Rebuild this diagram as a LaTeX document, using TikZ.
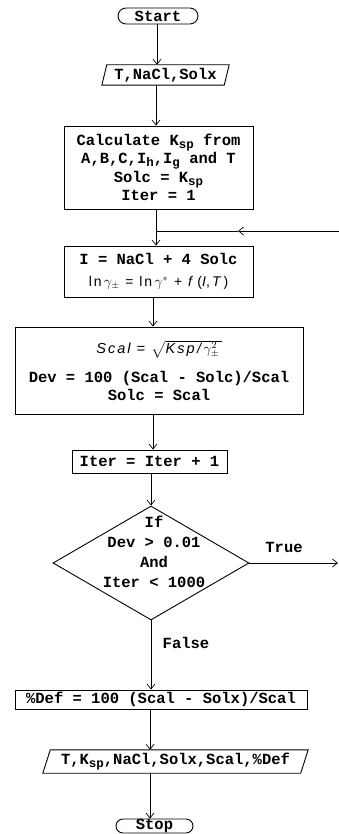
\documentclass[tikz,border=0pt]{standalone}
\usepackage{fontspec}
\usepackage{amsmath}
\setmainfont{Liberation Mono}
\newfontfamily\msans[LetterSpace=14]{Liberation Sans}
\usetikzlibrary{shapes.geometric,arrows.meta}
\newcommand{\sbs}[1]{\raisebox{-0.35ex}{\fontsize{12.5}{12.5}\selectfont #1}}
\begin{document}
\begin{tikzpicture}[x=1pt,y=-1pt,
  every node/.style={font=\fontsize{15.5}{18.5}\selectfont\bfseries, inner sep=0pt, align=center},
  box/.style={draw, line width=0.9pt, rectangle},
  term/.style={draw, line width=0.9pt, rectangle, rounded corners=8pt},
  io/.style={rectangle},
  iobord/.style={line width=0.9pt, line join=miter},
  conn/.style={line width=0.7pt, -{Straight Barb[length=5pt,width=8pt]}},
  plain/.style={line width=0.7pt},
  lbl/.style={}]
\useasboundingbox (0,0) rectangle (339,834);
% axes
\coordinate (ax1) at (157,0);
\coordinate (ax2) at (156,0);
\coordinate (ax3) at (153,0);
\coordinate (ax5) at (150,0);
% nodes
\node[term, minimum width=80pt, minimum height=16pt] (start) at (158,16) {Start};
\node[io, minimum width=122pt, minimum height=20pt] (inp) at (165.5,75) {T,NaCl,Solx};
\draw[iobord] ([xshift=-2.5pt]inp.south west) -- ([xshift=2.5pt]inp.north west) -- ([xshift=2.5pt]inp.north east) -- ([xshift=-2.5pt]inp.south east) -- cycle;
\node[box, minimum width=189pt, minimum height=83pt] (calc) at (158.5,167.5)
  {Calculate K\sbs{sp} from\\A,B,C,I\sbs{h},I\sbs{g} and T\\Solc = K\sbs{sp}\\Iter = 1};
\node[box, minimum width=189pt, minimum height=51pt] (ibox) at (158.5,271.5)
  {I = NaCl + 4 Solc\\[3pt]{\mdseries\msans\fontsize{14}{14}\selectfont ln\,$\gamma_{\pm}$ = ln\,$\gamma^{*}$ + \textit{f}\,(\textit{I},\,\textit{T})}};
\node[box, minimum width=288pt, minimum height=87pt] (scal) at (159,370.5)
  {{\mdseries\msans\itshape\fontsize{14.5}{14.5}\selectfont Scal = $\sqrt{\hbox{\msans\itshape\fontsize{14.5}{14.5}\selectfont Ksp\,/\,}\gamma_{\pm}^{2}\,}$}\\[10pt]Dev = 100 (Scal - Solc)/Scal\\Solc = Scal};
\node[box, minimum width=155pt, minimum height=23pt] (iter) at (149.5,461.5) {Iter = Iter + 1};
\node[draw, diamond, line width=0.9pt, minimum width=196pt, minimum height=114pt] (dia) at (151,563) {};
\node[font=\fontsize{15.5}{20}\selectfont\bfseries] (diatxt) at (154,551.5) {If\\Dev > 0.01\\And\\Iter < 1000};
\node[lbl] (truelbl) at (284,547) {True};
\node[lbl] (falselbl) at (186,643) {False};
\node[box, minimum width=292pt, minimum height=19pt] (def) at (161,699.5) {\%Def = 100 (Scal - Solx)/Scal};
\node[io, minimum width=257.5pt, minimum height=23pt] (out) at (175.5,761.5) {T,K\sbs{sp},NaCl,Solx,Scal,\%Def};
\draw[iobord] ([xshift=-3.75pt]out.south west) -- ([xshift=3.75pt]out.north west) -- ([xshift=3.75pt]out.north east) -- ([xshift=-3.75pt]out.south east) -- cycle;
\node[term, minimum width=77pt, minimum height=14pt, rounded corners=7pt] (stop) at (154.5,826) {Stop};
% loop coordinates
\coordinate (loopR) at (339,231);
\coordinate (loopM) at (238,231);
\coordinate (join) at (156,231);
\coordinate (trueEnd) at (338,563);
% connectors
\draw[conn] (start.south -| ax1) -- (inp.north -| ax1);
\draw[conn] (inp.south -| ax2) -- (calc.north -| ax2);
\draw[conn] (calc.south -| ax2) -- (ibox.north -| ax2);
\draw[conn] (loopR) -- (loopM);
\draw[plain] (loopM) -- (join);
\draw[conn] (ibox.south -| ax3) -- (scal.north -| ax3);
\draw[conn] (scal.south -| ax3) -- (iter.north -| ax3);
\draw[conn] (iter.south -| dia.north) -- (dia.north);
\draw[conn] (dia.east) -- (trueEnd);
\draw[conn] (dia.south) -- (def.north -| dia.south);
\draw[conn] (def.south -| ax5) -- (out.north -| ax5);
\draw[conn] (out.south -| ax5) -- (stop.north -| ax5);
\end{tikzpicture}
\end{document}
